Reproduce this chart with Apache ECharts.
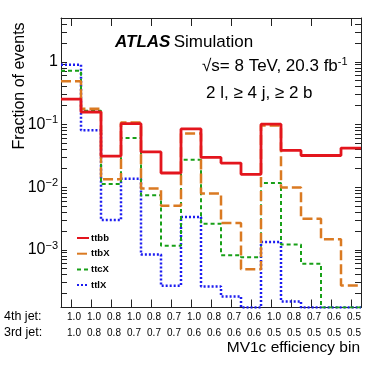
<!DOCTYPE html>
<html>
<head>
<meta charset="utf-8">
<script src="https://cdn.jsdelivr.net/npm/echarts@6/dist/echarts.min.js"></script>
<style>
  html, body { margin: 0; padding: 0; background: #fff; }
  #main { width: 382px; height: 367px; }
</style>
</head>
<body>
<div id="main"></div>
<script>
// bin labels (MV1c efficiency of 4th / 3rd jet)
var jet4 = ['1.0','1.0','0.8','1.0','0.8','0.7','1.0','0.8','0.7','0.6','1.0','0.8','0.7','0.6','0.5'];
var jet3 = ['1.0','0.8','0.8','0.7','0.7','0.7','0.6','0.6','0.6','0.6','0.5','0.5','0.5','0.5','0.5'];

// fraction of events per bin (0 = empty / below the axis)
var ttbb = [0.254, 0.158, 0.0313, 0.103, 0.0365, 0.0168, 0.085, 0.0298, 0.0242, 0.016, 0.101, 0.0385, 0.032, 0.032, 0.042];
var ttbX = [0.49, 0.178, 0.0134, 0.107, 0.0095, 0.00505, 0.072, 0.0079, 0.00267, 0.00049, 0.096, 0.0099, 0.00313, 0.00147, 0.00027];
var ttcX = [0.72, 0.166, 0.0112, 0.061, 0.0074, 0.00116, 0.0274, 0.0026, 0.00082, 0.00076, 0.0116, 0.00122, 0.0006, 0, 0];
var ttlX = [0.9, 0.081, 0.003, 0.0136, 0.00084, 0.000267, 0.00333, 0.00026, 0.00018, 0, 0.00133, 0.00015, 0, 0, 0];

// y axis
var yMin = 1.2e-4, yMax = 5;
var yMajor = [0.001, 0.01, 0.1, 1];
var yTicks = [];
for (var e = -4; e <= 0; e++) {
    for (var m = 1; m <= 9; m++) {
        var v = m * Math.pow(10, e);
        if (v > yMin && v < yMax) yTicks.push(v);
    }
}
// bin centres
var xCentres = jet4.map(function (a, i) { return i + 0.5; });

var myChart = echarts.init(document.getElementById('main'));

// histogram as a step line through the bin edges
function steps(vals) {
    var out = [];
    for (var i = 0; i < vals.length; i++) {
        out.push([i, Math.max(vals[i], yMin)]);
    }
    out.push([vals.length, Math.max(vals[vals.length - 1], yMin)]);
    return out;
}

function frame() {
    return { show: true, onZero: false, lineStyle: { color: '#222', width: 1 } };
}

function yAxisDef(pos, labels) {
    return {
        type: 'log', logBase: 10, position: pos, min: yMin, max: yMax,
        axisLine: frame(),
        splitLine: { show: false },
        axisTick: { show: true, inside: true, length: 6, customValues: yTicks, lineStyle: { color: '#222', width: 1 } },
        axisLabel: labels ? {
            show: true, customValues: yMajor, margin: 3, color: '#000',
            formatter: function (v) {
                var ex = Math.round(Math.log10(v));
                if (ex === 0) return '{b|1}';
                return '{b|10}{s|\u2212' + (-ex) + '}';
            },
            rich: {
                b: { fontSize: 16, fontFamily: 'Liberation Sans', color: '#000' },
                s: { fontSize: 11, fontFamily: 'Liberation Sans', color: '#000', verticalAlign: 'top', padding: [0, 0, 8, 0] }
            }
        } : { show: false }
    };
}

function histo(name, vals, color, width, type) {
    return {
        name: name, type: 'line', step: 'end', xAxisIndex: 0, yAxisIndex: 0,
        symbol: 'none', data: steps(vals),
        lineStyle: { color: color, width: width, type: type }, itemStyle: { color: color }
    };
}

var option = {
    animation: false,
    backgroundColor: '#fff',
    grid: { left: 61, right: 21, top: 18, bottom: 59.5 },
    legend: {
        orient: 'vertical', left: 76, top: 233,
        itemWidth: 12, itemHeight: 10, itemGap: 5.7, padding: 0,
        data: ['ttbb', 'ttbX', 'ttcX', 'ttlX'],
        itemStyle: { color: 'transparent', borderColor: 'transparent', borderWidth: 0, opacity: 0 },
        textStyle: { fontSize: 9.5, fontWeight: 'bold', fontFamily: 'Liberation Sans', color: '#000', padding: [0, 0, 0, -3] }
    },
    xAxis: [{
        type: 'value', position: 'bottom', min: 0, max: jet4.length,
        axisLine: frame(),
        splitLine: { show: false },
        axisTick: { show: true, inside: true, length: 8, customValues: xCentres, lineStyle: { color: '#222', width: 1 } },
        axisLabel: {
            show: true, customValues: xCentres, fontSize: 10, lineHeight: 16, margin: 2,
            color: '#000', fontFamily: 'Liberation Sans', padding: [0, 0, 0, 6],
            formatter: function (v) {
                var i = Math.floor(v);
                return jet4[i] + '\n' + jet3[i];
            }
        }
    }, {
        type: 'category', position: 'top', data: jet4, boundaryGap: true,
        axisLine: frame(),
        axisTick: { show: true, inside: true, length: 8, alignWithLabel: true, lineStyle: { color: '#222', width: 1 } },
        axisLabel: { show: false }
    }],
    yAxis: [yAxisDef('left', true), yAxisDef('right', false)],
    series: [
        histo('ttlX', ttlX, '#1c1cf0', 2.5, [2, 2]),
        histo('ttcX', ttcX, '#18a018', 2, [4, 3]),
        histo('ttbX', ttbX, '#da7a22', 2.5, [10, 4]),
        histo('ttbb', ttbb, '#e3151d', 2.8, 'solid')
    ],
    graphic: [{
        type: 'text', x: 20, y: 86, rotation: Math.PI / 2,
        style: { text: 'Fraction of events', fontSize: 16, fontFamily: 'Liberation Sans', fill: '#000', align: 'center', verticalAlign: 'middle' }
    }, {
        type: 'text', x: 115, y: 42,
        style: {
            text: '{a|ATLAS} {b|Simulation}', verticalAlign: 'middle',
            rich: {
                a: { fontSize: 17, fontWeight: 'bold', fontStyle: 'italic', fontFamily: 'Liberation Sans', fill: '#000' },
                b: { fontSize: 17, fontFamily: 'Liberation Sans', fill: '#000' }
            }
        }
    }, {
        type: 'text', x: 202, y: 66,
        style: {
            text: '{t|\u221As= 8 TeV, 20.3 fb}{s|-1}', verticalAlign: 'middle',
            rich: {
                t: { fontSize: 17, fontFamily: 'Liberation Sans', fill: '#000' },
                s: { fontSize: 11, fontFamily: 'Liberation Sans', fill: '#000', verticalAlign: 'top', padding: [0, 0, 8, 0] }
            }
        }
    }, {
        type: 'text', x: 206, y: 93,
        style: { text: '2 l, \u2265 4 j, \u2265 2 b', fontSize: 17, fontFamily: 'Liberation Sans', fill: '#000', verticalAlign: 'middle' }
    }, {
        type: 'text', x: 4, y: 317,
        style: { text: '4th jet:', fontSize: 12.5, fontFamily: 'Liberation Sans', fill: '#000', verticalAlign: 'middle' }
    }, {
        type: 'text', x: 4, y: 333,
        style: { text: '3rd jet:', fontSize: 12.5, fontFamily: 'Liberation Sans', fill: '#000', verticalAlign: 'middle' }
    }, {
        type: 'text', x: 360, y: 348,
        style: { text: 'MV1c efficiency bin', fontSize: 15.5, fontFamily: 'Liberation Sans', fill: '#000', align: 'right', verticalAlign: 'middle' }
    }]
};

myChart.setOption(option);
</script>
</body>
</html>
